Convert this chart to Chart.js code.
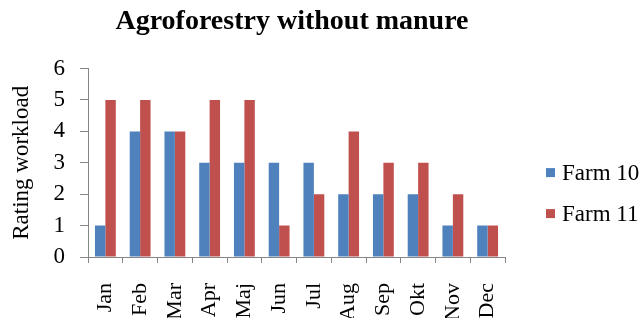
<!DOCTYPE html>
<html>
<head>
<meta charset="utf-8">
<script src="https://cdn.jsdelivr.net/npm/chart.js@4.4.0/dist/chart.umd.min.js"></script>
<style>
  html, body { margin: 0; padding: 0; background: #fff; }
  #wrap { width: 640px; height: 318px; }
</style>
</head>
<body>
<div id="wrap"><canvas id="chart" width="640" height="318"></canvas></div>
<script>
const months = ["Jan", "Feb", "Mar", "Apr", "Maj", "Jun", "Jul", "Aug", "Sep", "Okt", "Nov", "Dec"];
const farm10 = [1, 4, 4, 3, 3, 3, 3, 2, 2, 2, 1, 1];
const farm11 = [5, 5, 4, 5, 5, 1, 2, 4, 3, 3, 2, 1];

const serif = "'Liberation Serif', 'Times New Roman', serif";
const axisGray = "#868686";

// legend drawn by hand to the right of the plot, like the Excel original
const sideLegend = {
  id: "sideLegend",
  afterDraw(chart) {
    const ctx = chart.ctx;
    const area = chart.chartArea;
    ctx.save();
    ctx.font = "23px " + serif;
    ctx.textBaseline = "middle";
    ctx.textAlign = "left";
    chart.data.datasets.forEach((ds, i) => {
      const x = area.right + 41;
      const y = area.top + 104 + i * 41;
      ctx.fillStyle = ds.backgroundColor;
      ctx.fillRect(x, y - 4.5, 9, 9);
      ctx.fillStyle = "#000";
      ctx.fillText(ds.label, x + 16, y + 1);
    });
    ctx.restore();
  },
};

const config = {
  type: "bar",
  data: {
    labels: months,
    datasets: [
      { label: "Farm 10", data: farm10, backgroundColor: "#4f81bd" },
      { label: "Farm 11", data: farm11, backgroundColor: "#c0504d" },
    ],
  },
  options: {
    responsive: false,
    animation: false,
    maintainAspectRatio: false,
    categoryPercentage: 0.6,
    barPercentage: 1.0,
    layout: { padding: { left: 0, right: 56, top: 0, bottom: 0 } },
    plugins: {
      title: {
        display: true,
        text: "Agroforestry without manure",
        color: "#000",
        font: { family: serif, size: 28, weight: "bold" },
        padding: { top: 5, bottom: 30 },
      },
      legend: { display: false },
      tooltip: { enabled: false },
    },
    scales: {
      x: {
        afterFit(scale) { scale.height = 61; },
        grid: {
          drawOnChartArea: false,
          drawTicks: true,
          tickLength: 6,
          color: axisGray,
        },
        border: { color: axisGray },
        ticks: {
          color: "#000",
          font: { family: serif, size: 22 },
          minRotation: 90,
          maxRotation: 90,
          padding: 20,
        },
      },
      y: {
        min: 0,
        max: 6,
        afterFit(scale) { scale.width = 88; },
        grid: {
          drawOnChartArea: false,
          drawTicks: true,
          tickLength: 8,
          color: axisGray,
        },
        border: { color: axisGray },
        ticks: {
          stepSize: 1,
          color: "#000",
          font: { family: serif, size: 23 },
          padding: 15,
        },
        title: {
          display: true,
          text: "Rating workload",
          color: "#000",
          font: { family: serif, size: 23 },
          padding: 8,
        },
      },
      y2: {
        position: "right",
        afterFit(scale) { scale.width = 79; },
        grid: { display: false },
        border: { display: false },
        ticks: { display: false },
      },
    },
  },
  plugins: [sideLegend],
};

new Chart(document.getElementById("chart"), config);
</script>
</body>
</html>
